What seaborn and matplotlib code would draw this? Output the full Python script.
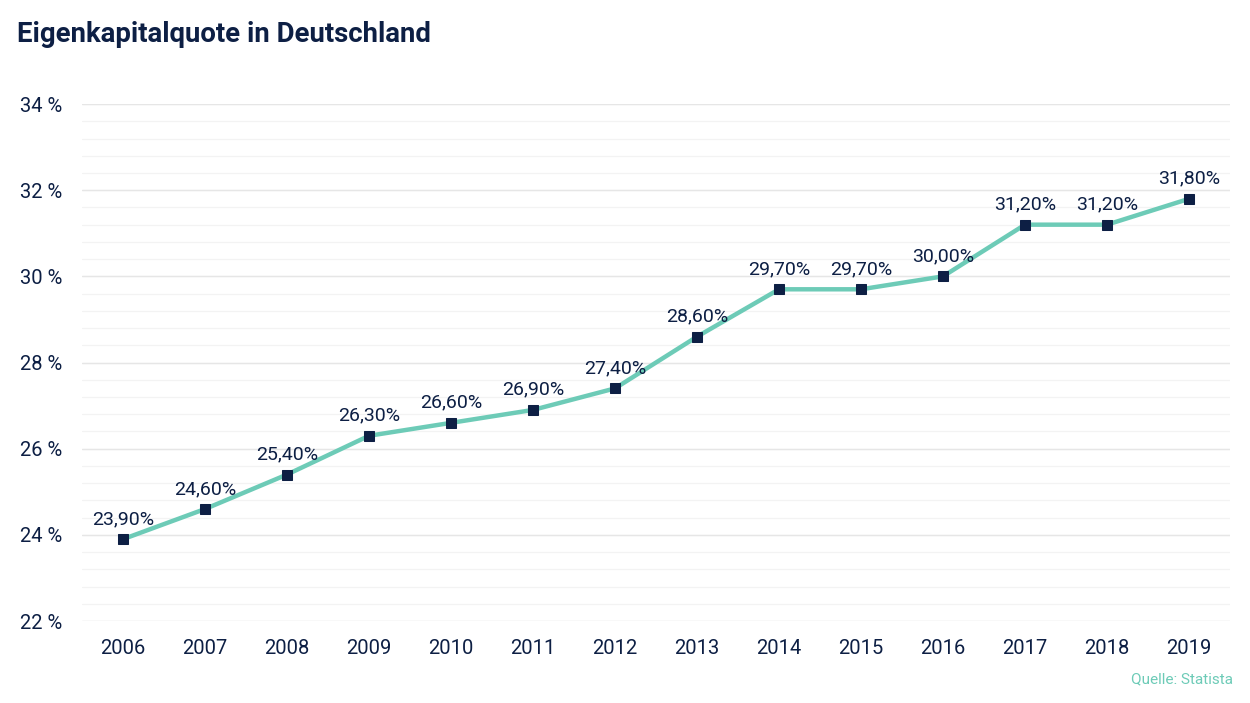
import matplotlib
matplotlib.use("Agg")
import matplotlib.pyplot as plt
import seaborn as sns
import numpy as np
import pandas as pd

years = [2006, 2007, 2008, 2009, 2010, 2011, 2012, 2013, 2014, 2015, 2016, 2017, 2018, 2019]
quote = [23.9, 24.6, 25.4, 26.3, 26.6, 26.9, 27.4, 28.6, 29.7, 29.7, 30.0, 31.2, 31.2, 31.8]
y_ticks = [22, 24, 26, 28, 30, 32, 34]
title = "Eigenkapitalquote in Deutschland"
source = "Quelle: Statista"

navy = "#0d1f44"
teal = "#6dcbb7"

sns.set_theme(style="white")
plt.rcParams['font.family'] = ['Roboto', 'DejaVu Sans']

df = pd.DataFrame({"Jahr": years, "Quote": quote})

fig = plt.figure(figsize=(12.5, 7.03), dpi=100)
ax = fig.add_axes([0.0656, 0.1166, 0.984 - 0.0656, 0.852 - 0.1166])

# gridlines
minor = np.arange(22, 34.01, 0.4)
for v in minor:
    ax.axhline(v, color="#f3f3f3", lw=0.9, zorder=0)
for v in y_ticks:
    ax.axhline(v, color="#e6e6e6", lw=1.0, zorder=0)

sns.lineplot(data=df, x="Jahr", y="Quote", ax=ax, color=teal, lw=3.2,
             marker="s", markersize=6.8, markerfacecolor=navy, markeredgecolor=navy,
             zorder=3)

for x, y in zip(years, quote):
    lbl = f"{y:.2f}".replace(".", ",") + "%"
    ax.annotate(lbl, (x, y), xytext=(0, 8), textcoords="offset points",
                ha="center", va="bottom", fontsize=14, color=navy, zorder=4)

ax.set_xlim(2005.5, 2019.5)
ax.set_ylim(22, 34)
ax.set_xticks(years)
ax.set_xticklabels([str(y) for y in years])
ax.set_yticks(y_ticks)
ax.set_yticklabels([f"{t} %" for t in y_ticks])
ax.tick_params(axis="both", length=0, labelsize=14.5, labelcolor=navy)
ax.tick_params(axis="x", pad=13)
ax.tick_params(axis="y", pad=14)
ax.set_xlabel("")
ax.set_ylabel("")
for s in ax.spines.values():
    s.set_visible(False)

fig.text(17 / 1250, 1 - 35 / 703, title, fontsize=19.8, fontweight="bold",
         color=navy, ha="left", va="center")
fig.text(1233 / 1250, 1 - 679 / 703, source, fontsize=11, color=teal,
         ha="right", va="center")

fig.savefig("out.png", dpi=100)
